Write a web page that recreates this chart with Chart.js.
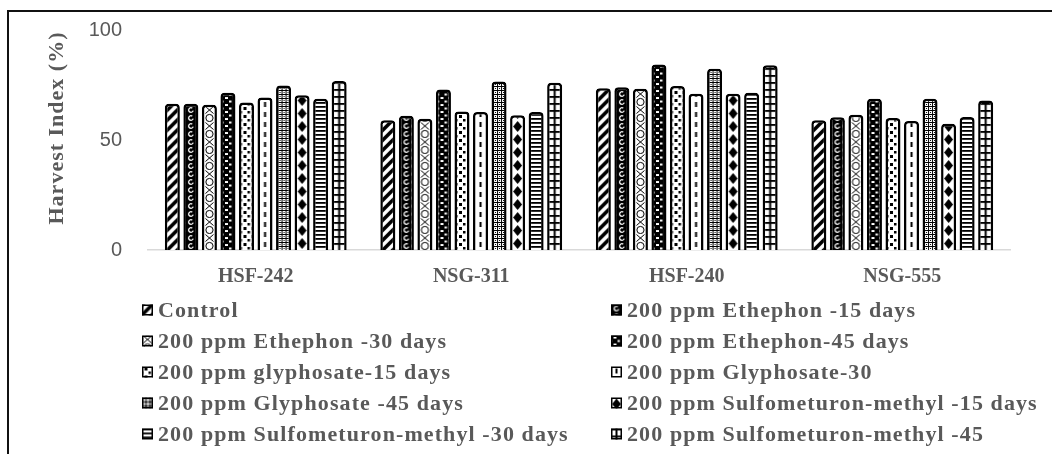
<!DOCTYPE html>
<html>
<head>
<meta charset="utf-8">
<script src="https://cdn.jsdelivr.net/npm/chart.js@4"></script>
<style>
html,body{margin:0;padding:0;background:#fff;overflow:hidden;}
#wrap{position:relative;width:1052px;height:454px;}
#frame{position:absolute;left:7px;top:10px;width:1200px;height:600px;border-left:2px solid #111;border-top:2px solid #111;pointer-events:none;}
canvas{position:absolute;left:0;top:0;}
</style>
</head>
<body>
<div id="wrap"><canvas id="c" width="1052" height="454"></canvas><div id="frame"></div></div>
<script>
// ---- data ----
const categories = ['HSF-242', 'NSG-311', 'HSF-240', 'NSG-555'];
const seriesNames = [
  'Control',
  '200 ppm Ethephon -15 days',
  '200 ppm Ethephon -30 days',
  '200 ppm Ethephon-45 days',
  '200 ppm glyphosate-15 days',
  '200 ppm Glyphosate-30',
  '200 ppm Glyphosate -45 days',
  '200 ppm Sulfometuron-methyl -15 days',
  '200 ppm Sulfometuron-methyl -30 days',
  '200 ppm Sulfometuron-methyl -45'
];
const control = [66.5, 59.0, 73.5, 59.0];
const ethephon15 = [66.5, 61.0, 74.0, 60.3];
const ethephon30 = [66.0, 59.7, 73.3, 61.5];
const ethephon45 = [71.5, 73.0, 84.3, 68.8];
const glyphosate15 = [67.0, 63.0, 74.5, 60.0];
const glyphosate30 = [69.3, 62.7, 71.0, 58.6];
const glyphosate45 = [74.8, 76.6, 82.4, 68.8];
const sulfo15 = [70.3, 61.2, 71.0, 57.4];
const sulfo30 = [68.8, 62.7, 71.5, 60.4];
const sulfo45 = [76.8, 76.0, 84.0, 68.0];
const seriesValues = [control, ethephon15, ethephon30, ethephon45, glyphosate15, glyphosate30, glyphosate45, sulfo15, sulfo30, sulfo45];
const yTicks = [0, 50, 100];
const yTitle = 'Harvest Index (%)';

// ---- patterns ----
function tile(w, h, bg, fn) {
  const cv = document.createElement('canvas');
  cv.width = w; cv.height = h;
  const g = cv.getContext('2d');
  g.fillStyle = bg; g.fillRect(0, 0, w, h);
  g.fillStyle = '#000'; g.strokeStyle = '#000';
  fn(g, w, h);
  return cv;
}
const tiles = [
  tile(10, 10, '#fff', g => { g.lineWidth = 3.6; g.beginPath();
    g.moveTo(0,10); g.lineTo(10,0); g.moveTo(-5,5); g.lineTo(5,-5); g.moveTo(5,15); g.lineTo(15,5); g.stroke(); }),
  tile(8, 8, '#000', g => { g.strokeStyle = '#fff'; g.lineWidth = 1.3; g.beginPath(); g.arc(4,4,2.3,0.3,Math.PI*1.7); g.stroke(); }),
  tile(11, 16, '#fff', g => { g.lineWidth = 1; g.beginPath();
    g.moveTo(1.5,0.5); g.lineTo(9.5,7.5); g.moveTo(9.5,0.5); g.lineTo(1.5,7.5); g.stroke();
    g.beginPath(); g.arc(5.5,12,3.6,0,Math.PI*2); g.stroke(); }),
  tile(8, 7, '#000', g => { g.fillStyle = '#fff'; g.fillRect(1,1,3,2); g.fillRect(5,4.5,2.5,2); }),
  tile(8, 8, '#fff', g => { g.fillRect(1,1,3,3); g.fillRect(5,5,2.5,2.5); }),
  tile(15, 10, '#fff', g => { g.fillRect(6.5,2,2,5); }),
  tile(4, 4, '#fff', g => { g.fillRect(0,0,4,1); g.fillRect(0,0,1,4); g.fillRect(2,2,1,1); }),
  tile(15, 13, '#fff', g => { g.beginPath(); g.moveTo(7.5,1); g.lineTo(12,6.5); g.lineTo(7.5,12); g.lineTo(3,6.5); g.closePath(); g.fill(); }),
  tile(4, 4, '#fff', g => { g.fillRect(0,0,4,1.8); }),
  tile(15, 7, '#fff', g => { g.fillRect(6.5,0,2,7); g.fillRect(0,0,15,1.8); })
];
const mainCtx = document.getElementById('c').getContext('2d');
function patternAt(i, cx, y0) {
  const p = mainCtx.createPattern(tiles[i], 'repeat');
  p.setTransform(new DOMMatrix([1,0,0,1, cx - tiles[i].width/2, y0]));
  return p;
}
const CAT_PCT = 0.86, BAR_PCT = 0.81;
function barFill(c) {
  const i = c.datasetIndex;
  const ch = c.chart;
  const xs = ch.scales.x;
  if (!xs || c.dataIndex === undefined || !ch.chartArea) return patternAt(i, 0, 0);
  const catW = (xs.right - xs.left) / categories.length;
  const grp = catW * CAT_PCT;
  const pitch = grp / seriesNames.length;
  const cx = xs.getPixelForValue(c.dataIndex) - grp/2 + pitch*(i + 0.5);
  return patternAt(i, cx, ch.chartArea.bottom);
}

const datasets = seriesNames.map((name, i) => ({
  label: name,
  data: seriesValues[i],
  backgroundColor: barFill,
  borderColor: '#000',
  borderWidth: 2.5,
  borderRadius: {topLeft: 4, topRight: 4, bottomLeft: 0, bottomRight: 0},
  borderSkipped: 'bottom',
  categoryPercentage: CAT_PCT,
  barPercentage: BAR_PCT
}));

const TEXT = '#595959';
const extras = {
  id: 'extras',
  afterDraw(chart) {
    const ctx = chart.ctx;
    ctx.save();
    // y title
    ctx.fillStyle = TEXT;
    ctx.font = 'bold 22px "Liberation Serif"';
    ctx.letterSpacing = '1px';
    ctx.textAlign = 'center';
    ctx.textBaseline = 'middle';
    ctx.translate(57, 128);
    ctx.rotate(-Math.PI/2);
    ctx.fillText(yTitle, 0, 0);
    ctx.restore();
    // legend
    ctx.save();
    ctx.font = 'bold 22px "Liberation Serif"';
    ctx.letterSpacing = '1.1px';
    ctx.textAlign = 'left';
    ctx.textBaseline = 'middle';
    seriesNames.forEach((name, i) => {
      const col = i % 2, row = Math.floor(i / 2);
      const bx = col === 0 ? 142 : 611;
      const cy = 310 + row * 31;
      ctx.fillStyle = patternAt(i, bx + 5.5, cy - 5.5);
      ctx.fillRect(bx, cy - 5.5, 11, 11);
      ctx.strokeStyle = '#000'; ctx.lineWidth = 1.5;
      ctx.strokeRect(bx + 0.75, cy - 4.75, 9.5, 9.5);
      ctx.fillStyle = TEXT;
      ctx.fillText(name, bx + 16, cy + 1);
    });
    ctx.restore();
  }
};

new Chart(document.getElementById('c'), {
  type: 'bar',
  data: { labels: categories, datasets },
  options: {
    responsive: false,
    animation: false,
    events: [],
    layout: { padding: { left: 0, right: 42, top: 30, bottom: 0 } },
    plugins: { legend: { display: false }, tooltip: { enabled: false } },
    scales: {
      x: {
        afterFit(s) { s.height = 204; s.paddingLeft = 0; s.paddingRight = 0; },
        grid: { display: true, color: 'rgba(0,0,0,0)', drawTicks: false },
        border: { display: true, color: '#d9d9d9', width: 1.5 },
        ticks: { color: TEXT, font: { family: 'Liberation Serif', weight: 'bold', size: 20 }, padding: 15, maxRotation: 0 }
      },
      y: {
        min: 0, max: 100,
        afterFit(s) { s.width = 148; s.paddingTop = 0; s.paddingBottom = 0; },
        afterBuildTicks(s) { s.ticks = yTicks.map(v => ({ value: v })); },
        grid: { display: false, drawTicks: false },
        border: { display: false },
        ticks: { color: TEXT, font: { family: 'Liberation Sans', size: 20 }, padding: 26 }
      }
    }
  },
  plugins: [extras]
});
</script>
</body>
</html>
